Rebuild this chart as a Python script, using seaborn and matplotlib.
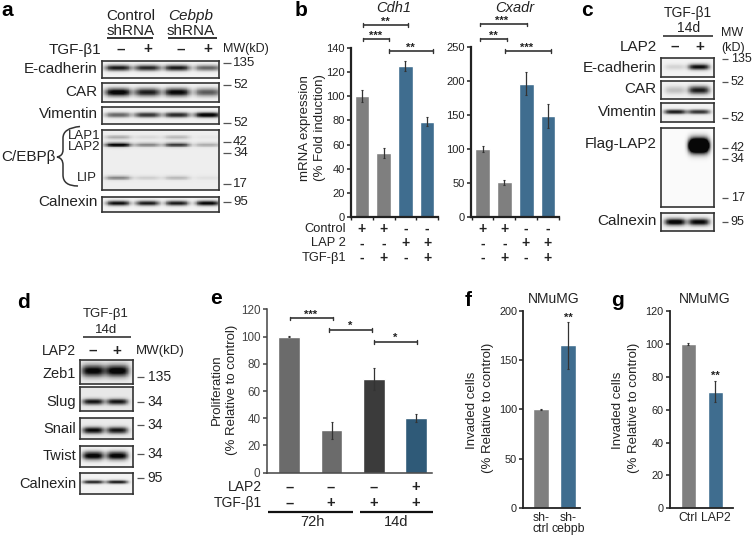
import numpy as np
import matplotlib
matplotlib.use('Agg')
import matplotlib.pyplot as plt
from matplotlib.path import Path
from matplotlib.patches import PathPatch
import seaborn as sns

W, H = 752, 537
GRAY = '#7f7f7f'
BLUE = '#3f6d8f'

# bar charts
cdh1_groups = ['ctrl', 'tgf', 'lap2', 'lap2_tgf']
cdh1_vals = [100, 53, 125.5, 79]
cdh1_err = [5, 4.5, 4, 4]
cxadr_vals = [100, 51, 196, 149]
cxadr_err = [5, 3.5, 17, 18]
prolif_groups = ['72h_ctrl', '72h_tgf', '14d_tgf', '14d_lap2']
prolif_vals = [100, 31, 69, 40]
prolif_err = [0.3, 6, 8, 3]
inv_f_labels = ['sh-\nctrl', 'sh-\ncebpb']
inv_f_vals = [100, 165]
inv_f_err = [0.5, 23.5]
inv_g_labels = ['Ctrl', 'LAP2']
inv_g_vals = [100, 71]
inv_g_err = [0.5, 6.5]

# band darkness per lane, read by eye
a_ecad = [0.85, 0.8, 0.85, 0.55]
a_car = [1.0, 0.85, 0.95, 0.6]
a_vim = [0.55, 0.75, 0.8, 1.0]
a_lap1 = [0.25, 0.08, 0.2, 0.03]
a_lap2 = [0.95, 0.4, 0.7, 0.25]
a_lip = [0.4, 0.12, 0.2, 0.05]
a_caln = [0.9, 0.85, 0.85, 0.95]
c_ecad = [0.12, 0.9]
c_car = [0.2, 0.85]
c_vim = [0.85, 0.75]
c_flag = [0.0, 2.5]
c_caln = [1.0, 0.95]
d_zeb1 = [0.95, 1.0]
d_slug = [0.85, 0.85]
d_snail = [0.9, 0.85]
d_twist = [1.0, 1.0]
d_caln = [0.8, 0.85]

sns.set_theme(style='white')
plt.rcParams['font.family'] = ['Liberation Sans', 'DejaVu Sans']
plt.rcParams['text.color'] = '#222222'

fig = plt.figure(figsize=(W / 100, H / 100), dpi=100)


def px_axes(x0, y0, x1, y1, **kw):
    return fig.add_axes([x0 / W, 1 - y1 / H, (x1 - x0) / W, (y1 - y0) / H], **kw)


over = px_axes(0, 0, W, H)
over.set_xlim(0, W)
over.set_ylim(H, 0)
over.axis('off')
over.set_zorder(5)
over.patch.set_alpha(0)


def txt(x, y, s, size=11, ha='center', **kw):
    over.text(x, y, s, fontsize=size, ha=ha, va='center', **kw)


def line(x0, x1, y, lw=1.2, color='#333333'):
    over.plot([x0, x1], [y, y], color=color, lw=lw, solid_capstyle='butt')


def bracket(x0, x1, y, stars, xs):
    line(x0, x1, y, lw=1.2)
    for x in (x0, x1):
        over.plot([x, x], [y - 1.8, y + 1.8], color='#333333', lw=1)
    txt(xs, y - 3.5, stars, size=8, fontweight='bold')


def blot(box, lanes, rows, width, thick, bg=0.05):
    ax = px_axes(*box)
    ny, nx = 80, 140
    yy, xx = np.mgrid[0:ny, 0:nx]
    yy = (yy + 0.5) / ny
    xx = (xx + 0.5) / nx
    dark = np.full((ny, nx), float(bg))
    for yc, vals in rows:
        for xc, v in zip(lanes, vals):
            dark += v * np.exp(-((xx - xc) / width) ** 4 - ((yy - yc) / thick) ** 2)
    sns.heatmap(1 - np.clip(dark, 0, 0.97), ax=ax, cmap='gray', vmin=0, vmax=1,
                cbar=False, xticklabels=False, yticklabels=False)
    for s in ax.spines.values():
        s.set_visible(True)
        s.set_color('#333333')
        s.set_linewidth(1.2)


def mw(x0, x1, xt, ticks, size=9.5):
    for y, lab in ticks:
        line(x0, x1, y, lw=0.9, color='#555555')
        txt(xt, y, lab, size=size, ha='left')


def bars(box, names, vals, err, colors, ymax, yticks, xlim, width, lw=1.6, fs=8, axc='#222222', between=False):
    ax = px_axes(*box)
    sns.barplot(x=names, y=vals, hue=names, palette=colors, legend=False, ax=ax,
                width=width, saturation=1, errorbar=None)
    ax.errorbar(range(len(vals)), vals, yerr=err, fmt='none', ecolor='#333333',
                elinewidth=0.9, capsize=0.8, capthick=0.8)
    ax.set_xlim(*xlim)
    ax.set_ylim(0, ymax)
    ax.set_yticks(yticks)
    ax.set_xlabel('')
    ax.set_ylabel('')
    ax.patch.set_alpha(0)
    sns.despine(ax=ax)
    for s in ('left', 'bottom'):
        ax.spines[s].set_linewidth(lw)
        ax.spines[s].set_color(axc)
    ax.tick_params(axis='y', left=True, length=3, width=1.1, labelsize=fs, pad=1.5, colors=axc)
    ax.tick_params(axis='x', bottom=False, labelbottom=False, length=0)
    if between:
        ax.set_xticks(np.arange(len(vals) + 1) - 0.5, minor=True)
        ax.tick_params(axis='x', which='minor', bottom=True, length=2, width=1, color=axc)
    return ax


# panel a
for x, y, s in [(7, 10, 'a'), (301, 11, 'b'), (587, 10, 'c'), (23, 302, 'd'),
                (216, 298, 'e'), (468, 301, 'f'), (617, 301, 'g')]:
    txt(x, y, s, size=15, fontweight='bold', color='black')

a_lanes = [0.14, 0.39, 0.64, 0.90]
blot((101.7, 61, 219.3, 78.3), a_lanes, [(0.40, a_ecad)], 0.11, 0.17)
blot((101.7, 83.3, 219.3, 101.7), a_lanes, [(0.49, a_car)], 0.11, 0.22)
blot((101.7, 107, 219.3, 124.3), a_lanes, [(0.46, a_vim)], 0.11, 0.15)
blot((101.7, 130, 219.3, 190), a_lanes, [(0.12, a_lap1), (0.245, a_lap2), (0.795, a_lip)], 0.11, 0.035, bg=0.07)
blot((101.7, 196.7, 219.3, 212.3), a_lanes, [(0.42, a_caln)], 0.10, 0.16)

for y, s in [(69.3, 'E-cadherin'), (92.3, 'CAR'), (114.3, 'Vimentin'), (201.7, 'Calnexin')]:
    txt(97.7, y, s, ha='right')
txt(1, 157.3, 'C/EBPβ', ha='left')
txt(67.7, 136, 'LAP1', size=9.5, ha='left')
txt(67.7, 146.7, 'LAP2', size=9.5, ha='left')
txt(96.7, 177.7, 'LIP', size=9.5, ha='right')
txt(130.7, 15.7, 'Control')
txt(130.7, 31, 'shRNA')
txt(190.7, 15.7, 'Cebpb', style='italic')
txt(190.7, 31, 'shRNA')
line(107.3, 153.3, 38.3, lw=1.4)
line(168.3, 216.7, 38.3, lw=1.4)
txt(101.7, 50, 'TGF-β1', ha='right')
for x, s in zip([120.7, 148, 180.7, 208], ['–', '+', '–', '+']):
    txt(x, 49.5, s, fontweight='bold')
txt(222.7, 49.3, 'MW(kD)', size=9, ha='left')
mw(222.7, 230.7, 233, [(62.7, '135'), (85, '52'), (123.3, '52'), (141.7, '42'),
                       (153, '34'), (184, '17'), (201.7, '95')])
brace = Path([(80, 126.5), (63, 128), (63, 138), (63, 148), (63, 150), (63, 156), (57, 157),
              (63, 158), (63, 165), (63, 170), (63, 175), (63, 186), (78, 186)],
             [Path.MOVETO, Path.CURVE3, Path.CURVE3, Path.LINETO, Path.LINETO, Path.CURVE3, Path.CURVE3,
              Path.CURVE3, Path.CURVE3, Path.LINETO, Path.LINETO, Path.CURVE3, Path.CURVE3])
over.add_patch(PathPatch(brace, fc='none', ec='#333333', lw=1.1))

# panel b
b_colors = [GRAY, GRAY, BLUE, BLUE]
bars((351, 48.3, 438, 216.7), cdh1_groups, cdh1_vals, cdh1_err, b_colors, 140,
     range(0, 141, 20), (-0.49, 3.5), 0.67, between=True)
bars((471, 47.3, 559, 216.7), cdh1_groups, cxadr_vals, cxadr_err, b_colors, 250,
     range(0, 251, 50), (-0.53, 3.5), 0.67, between=True)
txt(394, 8, 'Cdh1', size=10.5, style='italic')
txt(515, 8, 'Cxadr', size=10.5, style='italic')
txt(305, 128, 'mRNA expression', size=9.5, rotation=90)
txt(320, 128, '(% Fold induction)', size=9.5, rotation=90)
bracket(362.7, 407.7, 25, '**', 385)
bracket(362.7, 389.3, 39.3, '***', 375.7)
bracket(389, 433, 51, '**', 410.7)
bracket(480, 526.7, 24.3, '***', 502)
bracket(480, 506.7, 39.3, '**', 493)
bracket(505.3, 550.7, 51, '***', 527)
for y, s in [(229, 'Control'), (243.5, 'LAP 2'), (258, 'TGF-β1')]:
    txt(346, y, s, size=9.3, ha='right')
rows_b = [['+', '+', '-', '-'], ['-', '-', '+', '+'], ['-', '+', '-', '+']]
for y, row in zip([229, 243.5, 258], rows_b):
    for x, s in zip([361.7, 383.7, 405.3, 427], row):
        txt(x, y, s, size=10, fontweight='bold')
    for x, s in zip([482.7, 504.3, 526, 548], row):
        txt(x, y, s, size=10, fontweight='bold')

# panel c
c_lanes = [0.27, 0.72]
blot((661, 58.3, 713.7, 76.7), c_lanes, [(0.47, c_ecad)], 0.2, 0.16)
blot((661, 81, 713.7, 99.3), c_lanes, [(0.5, c_car)], 0.2, 0.22)
blot((661, 103.3, 713.7, 122.3), c_lanes, [(0.45, c_vim)], 0.21, 0.12)
blot((661, 128.3, 713.7, 207.3), c_lanes, [(0.22, c_flag)], 0.19, 0.085, bg=0.02)
blot((661, 213.3, 713.7, 230.7), c_lanes, [(0.5, c_caln)], 0.2, 0.2)
txt(688.3, 12.7, 'TGF-β1', size=10)
txt(688.3, 28.3, '14d', size=10)
line(663.3, 712.7, 35.7, lw=1.2)
txt(656.7, 46.7, 'LAP2', ha='right')
txt(675, 46.5, '–', fontweight='bold')
txt(700, 46.5, '+', fontweight='bold')
for y, s in [(67.7, 'E-cadherin'), (89.3, 'CAR'), (111.7, 'Vimentin'),
             (144, 'Flag-LAP2'), (220.7, 'Calnexin')]:
    txt(656.7, y, s, ha='right')
txt(721.5, 33.3, 'MW', size=9, ha='left')
txt(721.5, 47.7, '(kD)', size=9, ha='left')
mw(721.7, 728, 730.7, [(59.3, '135'), (82.3, '52'), (117.7, '52'), (148, '42'),
                       (159, '34'), (198.3, '17'), (221.7, '95')], size=9)

# panel d
d_lanes = [0.25, 0.70]
blot((80, 360, 133.3, 384), d_lanes, [(0.45, d_zeb1)], 0.22, 0.24, bg=0.08)
blot((80, 386.7, 133.3, 411), d_lanes, [(0.62, d_slug)], 0.2, 0.12, bg=0.09)
blot((80, 418.3, 133.3, 439), d_lanes, [(0.58, d_snail)], 0.2, 0.16, bg=0.08)
blot((80, 446, 133.3, 466.7), d_lanes, [(0.47, d_twist)], 0.2, 0.2, bg=0.05)
blot((80, 473.3, 133.3, 494), d_lanes, [(0.42, d_caln)], 0.2, 0.09, bg=0.05)
txt(106, 314, 'TGF-β1', size=9.5)
txt(106, 330, '14d', size=9.5)
line(82.7, 130.7, 337, lw=1.2)
txt(76, 350.7, 'LAP2', size=10, ha='right')
txt(93, 350.5, '–', fontweight='bold')
txt(117, 350.5, '+', fontweight='bold')
txt(136, 350.7, 'MW(kD)', size=9.5, ha='left')
for y, s in [(374.3, 'Zeb1'), (401.7, 'Slug'), (429, 'Snail'), (455.7, 'Twist'), (484, 'Calnexin')]:
    txt(76, y, s, size=10.5, ha='right')
mw(137, 144, 147.7, [(377.3, '135'), (401.7, '34'), (425, '34'), (454, '34'), (478.3, '95')], size=10)

# panel e
bars((266.7, 309.3, 432, 472.7), prolif_groups, prolif_vals, prolif_err,
     ['#6b6b6b', '#6b6b6b', '#3b3b3b', '#2f5a78'], 120, range(0, 121, 20),
     (-0.535, 3.38), 0.52, lw=1.1, axc='#444444', fs=8.4)
txt(216.7, 390, 'Proliferation', size=9.5, rotation=90)
txt(232.3, 390, '(% Relative to control)', size=9.5, rotation=90)
bracket(290, 332.7, 318.3, '***', 311)
bracket(329.3, 371.7, 329.7, '*', 350)
bracket(374.3, 416.7, 341.7, '*', 395)
txt(262, 487.3, 'LAP2', size=10, ha='right')
txt(262, 503.3, 'TGF-β1', size=10, ha='right')
rows_e = [['–', '–', '–', '+'], ['–', '+', '+', '+']]
for y, row in zip([487.3, 503.3], rows_e):
    for x, s in zip([289.3, 331, 373.3, 416], row):
        txt(x, y, s, size=10.5, fontweight='bold')
line(267.7, 352.7, 511.7, lw=1.6, color='#111111')
line(360, 433.3, 511.7, lw=1.6, color='#111111')
txt(312.7, 521.7, '72h', size=10.5)
txt(396, 521.7, '14d', size=10.5)

# panels f, g
ax_f = bars((523.3, 311, 580, 507.7), inv_f_labels, inv_f_vals, inv_f_err, [GRAY, BLUE], 200,
            range(0, 201, 50), (-0.64, 1.44), 0.58, lw=1.3, fs=7.8)
ax_g = bars((670, 311, 733, 508.3), inv_g_labels, inv_g_vals, inv_g_err, [GRAY, BLUE], 120,
            range(0, 121, 20), (-0.68, 1.65), 0.58, lw=1.3, fs=7.8)
for ax in (ax_f, ax_g):
    ax.tick_params(axis='x', labelbottom=True, labelsize=8.8, pad=3, colors='#222222')
    for t in ax.get_xticklabels():
        t.set_linespacing(0.95)
txt(553.3, 299, 'NMuMG', size=10)
txt(705, 299, 'NMuMG', size=10)
txt(568, 318, '**', size=8, fontweight='bold')
txt(715, 375.7, '**', size=8, fontweight='bold')
for x0, x1 in [(471.7, 488), (618, 634)]:
    txt(x0, 410, 'Invaded cells', size=9.5, rotation=90)
    txt(x1, 408, '(% Relative to control)', size=9.5, rotation=90)

fig.savefig('out.png', dpi=100)
